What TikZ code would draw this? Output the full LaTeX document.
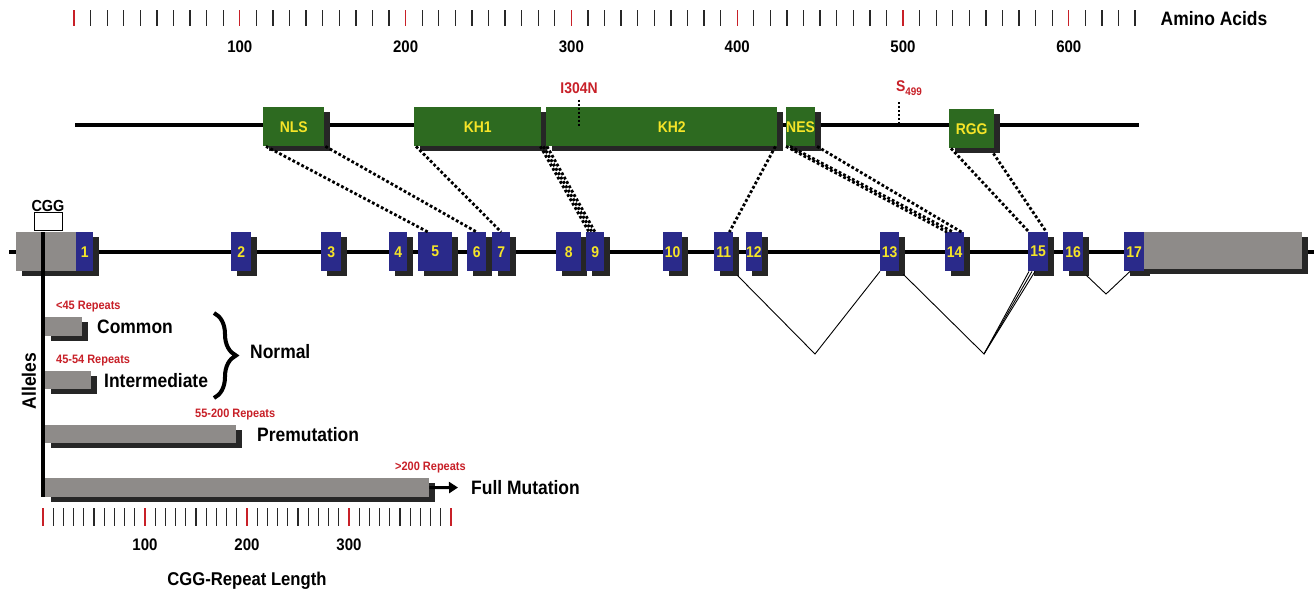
\documentclass[tikz,border=0pt]{standalone}
\usepackage{fontspec}
\setmainfont{Liberation Sans}[FakeStretch=0.9]
\usetikzlibrary{shadows,decorations.pathreplacing,arrows.meta}
\definecolor{domgreen}{RGB}{45,106,32}
\definecolor{exblue}{RGB}{42,42,138}
\definecolor{utrgrey}{RGB}{142,139,137}
\definecolor{lblyellow}{RGB}{245,228,40}
\definecolor{rptred}{RGB}{200,32,40}
\definecolor{tickgrey}{RGB}{40,40,40}
\begin{document}
\begin{tikzpicture}[x=1pt,y=-1pt,
    shadowed/.style={drop shadow={shadow xshift=6pt,shadow yshift=-5pt,fill=black!85,opacity=1}},
    dombox/.style={shadowed,fill=domgreen,inner sep=0pt,minimum height=39pt,anchor=north west,
        text=lblyellow,font=\bfseries\fontsize{15.5}{16}\selectfont},
    exonbox/.style={shadowed,fill=exblue,inner sep=0pt,minimum height=39pt,anchor=north west,
        text=lblyellow,font=\bfseries\fontsize{15.5}{16}\selectfont},
    utrbox/.style={shadowed,fill=utrgrey,inner sep=0pt,anchor=north west},
    barbox/.style={shadowed,fill=utrgrey,inner sep=0pt,anchor=north west},
    dotlink/.style={line width=2.8pt,dash pattern=on 2.8pt off 2.2pt},
    splice/.style={line width=0.9pt},
    biglbl/.style={inner sep=1pt,font=\bfseries\fontsize{19.4}{22}\selectfont},
    numlbl/.style={inner sep=1pt,font=\bfseries\fontsize{16.7}{19}\selectfont},
    rptlbl/.style={inner sep=1pt,text=rptred,font=\bfseries\fontsize{12.2}{14}\selectfont},
    mutlbl/.style={inner sep=1pt,text=rptred,font=\bfseries\fontsize{15.5}{17}\selectfont}]
    \useasboundingbox (0,0) rectangle (1314,592);
    \fill[white] (0,0) rectangle (1314,592);

    % amino acid ruler
    \foreach \i in {0,...,64}{
        \pgfmathtruncatemacro\r{mod(\i,10)}
        \ifnum\r=0 \def\tc{rptred}\else\def\tc{tickgrey}\fi
        \draw[\tc,line width=1.3pt] ({74+16.58*\i},10) -- ({74+16.58*\i},26);
    }
    \foreach \v in {1,...,6}
        \node[numlbl] (aa\v) at ({74+165.8*\v},47) {\v00};
    \node[biglbl] (aalabel) at (1214,19) {Amino Acids};

    % protein
    \coordinate (pl) at (75,125);
    \coordinate (pr) at (1139,125);
    \draw[line width=3.5pt] (pl) -- (pr);
    \node[dombox,minimum width=61pt] (nls) at (263,107) {NLS};
    \node[dombox,minimum width=127pt] (kh1) at (414,107) {KH1};
    \node[dombox,minimum width=231pt] (kh2) at (546,107) {\hspace{20pt}KH2};
    \node[dombox,minimum width=28pt] (nes) at (786,107) {NES};
    \node[dombox,minimum width=45pt] (rgg) at (949,109) {RGG};

    % mutation sites
    \node[mutlbl] (i304n) at (579,88) {I304N};
    \draw[dotlink,line width=2pt,dash pattern=on 2pt off 2pt] ([yshift=-5pt]i304n.south) -- (i304n.south |- kh2.center);
    \node[mutlbl] (s499) at (909,88) {S\raisebox{-3.5pt}{\fontsize{11}{11}\selectfont 499}};
    \coordinate (s499top) at (899,102);
    \coordinate (s499bot) at (899,124);
    \draw[dotlink,line width=2pt,dash pattern=on 2pt off 2pt] (s499top) -- (s499bot);

    % gene
    \coordinate (gl) at (9,252);
    \coordinate (gr) at (1314,252);
    \draw[line width=3.5pt] (gl) -- (gr);
    \node[utrbox,minimum width=60pt,minimum height=39pt] (utr5) at (16,232) {};
    \foreach \n/\l/\w in {1/76/17,2/231/20,3/321/20,4/389/18,5/418/34,6/467/19,7/492/18,
            8/556/25,9/586/18,10/663/19,11/714/19,12/746/15,13/880/19,14/945/19,
            15/1028/20,16/1063/20,17/1124/20}
        \node[exonbox,minimum width=\w pt] (e\n) at (\l,232) {\n};
    \node[utrbox,minimum width=158pt,minimum height=37pt] (utr3) at (1144,232) {};

    % CGG repeat
    \node[draw,fill=white,line width=0.8pt,inner sep=0pt,minimum width=28pt,minimum height=18pt,
        anchor=north west] (cggbox) at (34,212) {};
    \node[inner sep=1pt,font=\bfseries\fontsize{16}{18}\selectfont] (cgg) at (48,206) {CGG};

    % domains to exons
    \draw[dotlink] ([xshift=3pt]nls.south west) -- ([xshift=10pt]e5.north west);
    \draw[dotlink] ([xshift=1pt]nls.south east) -- (e6.north);
    \draw[dotlink] ([xshift=2pt]kh1.south west) -- (e7.north);
    \draw[dotlink] ([xshift=-1pt]kh1.south east) -- ([xshift=3pt]e9.north west);
    \draw[dotlink] ([xshift=2pt]kh1.south east) -- ([xshift=6pt]e9.north west);
    \draw[dotlink] ([xshift=1pt]kh2.south west) -- ([xshift=9pt]e9.north west);
    \draw[dotlink] ([xshift=-2pt]kh2.south east) -- ([xshift=-4pt]e11.north east);
    \draw[dotlink] (nes.south west) -- ([xshift=2pt]e14.north west);
    \draw[dotlink] ([xshift=4pt]nes.south west) -- ([xshift=8pt]e14.north west);
    \draw[dotlink] ([xshift=2pt]nes.south east) -- ([xshift=-3pt]e14.north east);
    \draw[dotlink] ([xshift=2pt]rgg.south west) -- ([xshift=1pt]e15.north west);
    \draw[dotlink] ([xshift=-1pt,yshift=-5pt]rgg.south east) -- ([xshift=-2pt]e15.north east);

    % alternative splicing
    \coordinate (sp1) at (815,354);
    \coordinate (sp2) at (984,354);
    \coordinate (sp3) at (1106,294);
    \draw[splice] ([xshift=4pt,yshift=-4pt]e11.south east) -- (sp1) -- (e13.south west);
    \draw[splice] ([xshift=4pt,yshift=-3pt]e13.south east) -- (sp2) -- ([xshift=1pt]e15.south west);
    \draw[splice] (sp2) -- ([xshift=4pt]e15.south west);
    \draw[splice] (sp2) -- ([xshift=7pt]e15.south west);
    \draw[splice] ([xshift=3pt,yshift=-4pt]e16.south east) -- (sp3) -- ([xshift=6pt]e17.south west);

    % alleles
    \coordinate (axtop) at (43,232);
    \coordinate (axbot) at (43,497);
    \draw[line width=3.5pt] (axtop) -- (axbot);
    \node[biglbl,rotate=90] (alleles) at (29,381) {Alleles};
    \node[barbox,minimum width=37pt,minimum height=19pt] (common) at (45,317) {};
    \node[barbox,minimum width=46pt,minimum height=18pt] (inter) at (45,371) {};
    \node[barbox,minimum width=191pt,minimum height=18pt] (premut) at (45,425) {};
    \node[barbox,minimum width=384pt,minimum height=19pt] (fullmut) at (45,478) {};
    \node[rptlbl,anchor=west] (r1) at (55,307) {<45 Repeats};
    \node[biglbl,anchor=west] (lcommon) at (96,327) {Common};
    \node[rptlbl,anchor=west] (r2) at (55,361) {45-54 Repeats};
    \node[biglbl,anchor=west] (linter) at (103,381) {Intermediate};
    \node[rptlbl,anchor=west] (r3) at (194,414) {55-200 Repeats};
    \node[biglbl,anchor=west] (lpremut) at (256,435) {Premutation};
    \node[rptlbl,anchor=west] (r4) at (394,467) {>200 Repeats};
    \node[biglbl,anchor=west] (lfull) at (470,488) {Full Mutation};
    \coordinate (bracetop) at (214,313);
    \coordinate (bracebot) at (214,398);
    \draw[decorate,decoration={brace,amplitude=22pt},line width=4pt] (bracetop) -- (bracebot);
    \node[biglbl,anchor=west] (lnormal) at (249,352) {Normal};
    \coordinate (arrowend) at (458,487.5);
    \draw[line width=3pt,-{Triangle[length=9pt,width=11pt]}] (fullmut.east) -- (arrowend);

    % repeat length ruler
    \foreach \i in {0,...,40}{
        \pgfmathtruncatemacro\r{mod(\i,10)}
        \ifnum\r=0 \def\tc{rptred}\else\def\tc{tickgrey}\fi
        \draw[\tc,line width=1.3pt] ({43+10.2*\i},508) -- ({43+10.2*\i},526);
    }
    \foreach \v in {1,2,3}
        \node[numlbl] (cg\v) at ({43+102*\v},545) {\v00};
    \node[inner sep=1pt,font=\bfseries\fontsize{18.5}{21}\selectfont] (cglabel) at (247,581) {CGG-Repeat Length};
\end{tikzpicture}
\end{document}
